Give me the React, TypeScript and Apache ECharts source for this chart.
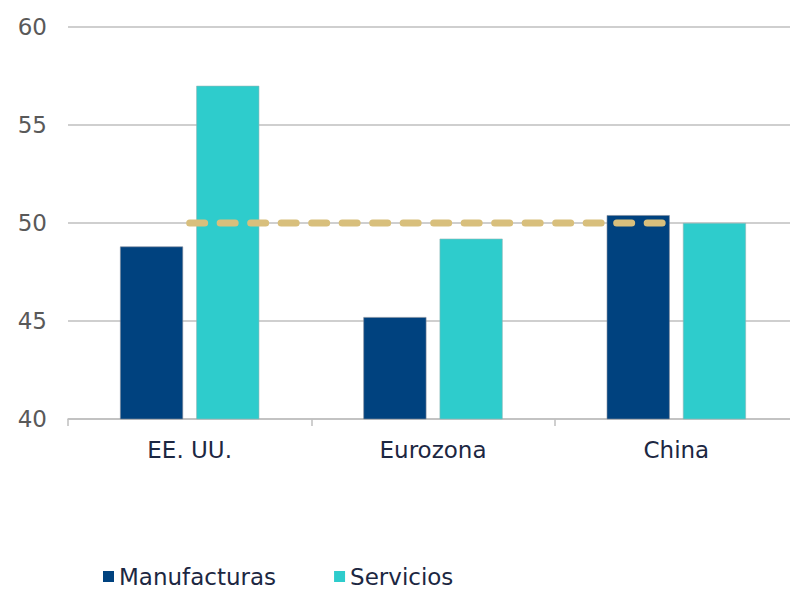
import React, { useEffect, useRef } from "react";
import * as echarts from "echarts";

const categories = ["EE. UU.", "Eurozona", "China"];
const manufacturas = [48.8, 45.2, 50.4];
const servicios = [57.0, 49.2, 50.0];
const threshold = [50, 50, 50];
const yTicks = { min: 40, max: 60, interval: 5 };

export default function App() {
  const ref = useRef<HTMLDivElement>(null);
  useEffect(() => {
    if (!ref.current) return;
    const chart = echarts.init(ref.current, undefined, { renderer: "svg" });
    const font = "DejaVu Sans";
    chart.setOption({
      animation: false,
      backgroundColor: "#ffffff",
      grid: { left: 68, right: 0, top: 27, bottom: 170, containLabel: false },
      legend: {
        data: ["Manufacturas", "Servicios"],
        left: 103,
        top: 565,
        padding: 0,
        itemWidth: 11,
        itemHeight: 11,
        itemGap: 58,
        icon: "rect",
        itemStyle: { borderWidth: 0 },
        textStyle: { fontFamily: font, fontSize: 23, color: "#1c2742" },
      },
      xAxis: {
        type: "category",
        data: categories,
        axisLine: { show: true, lineStyle: { color: "#bfbfbf", width: 1.5 } },
        axisTick: { show: true, length: 7, lineStyle: { color: "#bfbfbf", width: 1.5 } },
        axisLabel: { fontFamily: font, fontSize: 23, color: "#1c2742", margin: 19 },
      },
      yAxis: {
        type: "value",
        min: yTicks.min,
        max: yTicks.max,
        interval: yTicks.interval,
        axisLine: { show: false },
        axisTick: { show: false },
        axisLabel: { fontFamily: font, fontSize: 23, color: "#595959", margin: 21 },
        splitLine: { show: true, lineStyle: { color: "#bfbfbf", width: 1.5 } },
      },
      series: [
        {
          name: "Manufacturas",
          type: "bar",
          data: manufacturas,
          barWidth: 63,
          barGap: "21%",
          itemStyle: { color: "#00427f", borderColor: "#7f8a99", borderWidth: 0.6 },
        },
        {
          name: "Servicios",
          type: "bar",
          data: servicios,
          barWidth: 63,
          barGap: "21%",
          itemStyle: { color: "#2ecccc", borderColor: "#8fb5b5", borderWidth: 0.6 },
        },
        {
          name: "Umbral",
          type: "line",
          data: threshold,
          showSymbol: false,
          symbol: "none",
          z: 5,
          lineStyle: { color: "#d8bf7c", width: 7, type: [15, 15.5], cap: "round" },
        },
      ],
    });
    return () => chart.dispose();
  }, []);
  return (
    <div style={{ position: "fixed", left: 0, top: 0, width: 790, height: 589, overflow: "hidden" }}>
      <div ref={ref} style={{ width: 798, height: 589 }} />
    </div>
  );
}
